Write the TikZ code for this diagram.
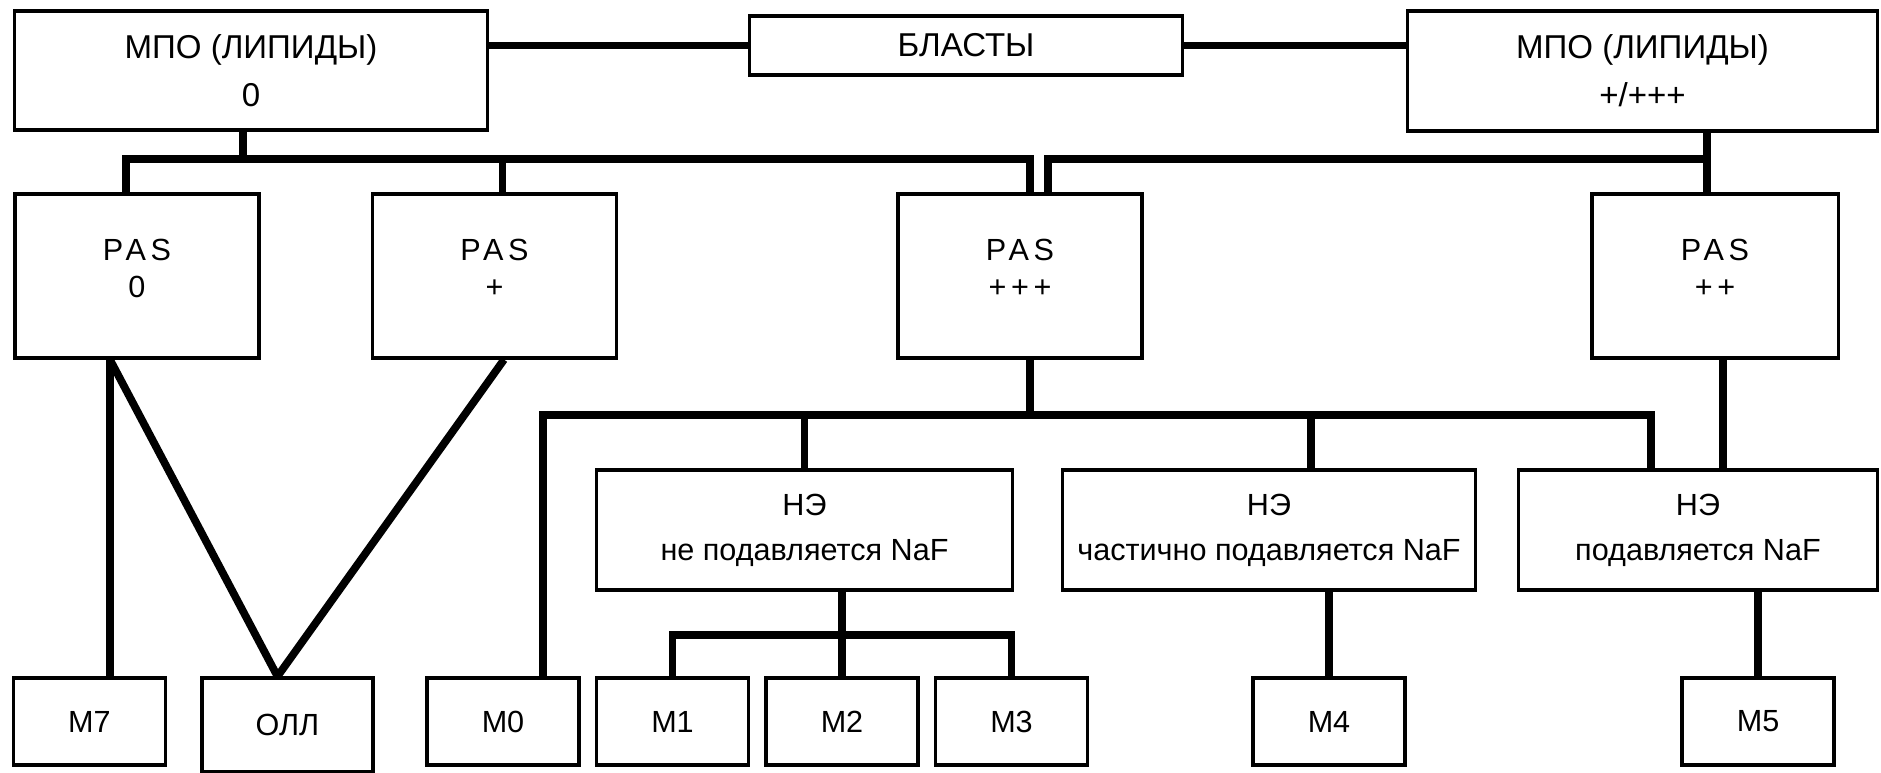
\documentclass[tikz,border=0pt]{standalone}
\usepackage{fontspec}
\setmainfont{Liberation Sans}
\usetikzlibrary{positioning}

\begin{document}
\begin{tikzpicture}[x=0.01cm,y=-0.01cm,
	box/.style={draw, line width=0.9pt, inner sep=0pt, align=center, font=\fontsize{8.7}{12.8}\selectfont},
	topbox/.style={box, font=\fontsize{9.4}{13.6}\selectfont},
	pasbox/.style={box, minimum width=2.44cm, minimum height=1.64cm, text depth=0.16cm, font=\fontsize{8.7}{10.5}\selectfont\addfontfeature{LetterSpace=15}},
	nebox/.style={box, minimum height=1.2cm},
	mbox/.style={box, minimum width=1.52cm, minimum height=0.87cm},
	link/.style={line width=2.2pt}]
	\useasboundingbox (0,0) rectangle (1881,773);

	\node[topbox, minimum width=4.72cm, minimum height=1.19cm] (mpoL) at (251,70.5) {МПО (ЛИПИДЫ)\\0};
	\node[topbox, minimum width=4.33cm, minimum height=0.59cm] (blast) at (966,45.5) {БЛАСТЫ};
	\node[topbox, minimum width=4.69cm, minimum height=1.2cm] (mpoR) at (1642.5,71) {МПО (ЛИПИДЫ)\\+/+++};

	\node[pasbox] (pas0) at (137,276) {PAS\\0};
	\node[pasbox] (pas1) at (494.5,276) {PAS\\+};
	\node[pasbox] (pas3) at (1020,276) {PAS\\+++};
	\node[pasbox, minimum width=2.46cm] (pas2) at (1715,276) {PAS\\++};

	\node[nebox, minimum width=4.15cm] (ne1) at (804.5,530) {НЭ\\не подавляется NaF};
	\node[nebox, minimum width=4.12cm] (ne2) at (1269,530) {НЭ\\частично подавляется NaF};
	\node[nebox, minimum width=3.58cm] (ne3) at (1698,530) {НЭ\\подавляется NaF};

	\node[mbox] (m7) at (89.5,721.5) {M7};
	\node[mbox, minimum width=1.71cm, minimum height=0.94cm] (oll) at (287.5,725) {ОЛЛ};
	\node[mbox] (m0) at (503,721.5) {M0};
	\node[mbox] (m1) at (672.5,721.5) {M1};
	\node[mbox] (m2) at (842,721.5) {M2};
	\node[mbox] (m3) at (1011.5,721.5) {M3};
	\node[mbox] (m4) at (1329,721.5) {M4};
	\node[mbox] (m5) at (1758,721.5) {M5};

	\coordinate (busA) at (0,159);
	\coordinate (busB) at (0,415);
	\coordinate (busC) at (0,635);
	\coordinate (tL) at ([xshift=-0.08cm]mpoL.south);
	\coordinate (a0) at ([xshift=-0.11cm]pas0.north);
	\coordinate (a1) at ([xshift=0.08cm]pas1.north);
	\coordinate (a3) at ([xshift=0.1cm]pas3.north);
	\coordinate (a4) at ([xshift=0.28cm]pas3.north);
	\coordinate (a2) at ([xshift=-0.08cm]pas2.north);
	\coordinate (b0) at ([xshift=-0.27cm]pas0.south);
	\coordinate (b1) at ([xshift=0.095cm]pas1.south);
	\coordinate (b3) at ([xshift=0.1cm]pas3.south);
	\coordinate (b2) at ([xshift=0.08cm]pas2.south);
	\coordinate (ollTop) at ([xshift=-0.1cm]oll.north);
	\coordinate (d0) at ([xshift=0.4cm]m0.north);
	\coordinate (d2) at ([xshift=0.42cm]ne2.north);
	\coordinate (d3) at ([xshift=-0.47cm]ne3.north);

	\draw[link] (blast.west) -- (blast.west -| mpoL.east);
	\draw[link] (blast.east) -- (blast.east -| mpoR.west);
	\draw[link] (tL) -- (tL |- busA);
	\draw[link] (a0) -- (a0 |- busA) -- (a3 |- busA) -- (a3);
	\draw[link] (a1) -- (a1 |- busA);
	\draw[link] (a4) -- (a4 |- busA) -- (a2 |- busA);
	\draw[link] (a2) -- (a2 |- mpoR.south);

	\draw[link] (b0) -- (b0 |- m7.north);
	\draw[link] (b0) -- (ollTop);
	\draw[link] (b1) -- (ollTop);
	\draw[link] (b3) -- (b3 |- busB);
	\draw[link] (d0) -- (d0 |- busB) -- (d3 |- busB) -- (d3);
	\draw[link] (ne1.north) -- (ne1.north |- busB);
	\draw[link] (d2) -- (d2 |- busB);
	\draw[link] (b2) -- (b2 |- ne3.north);

	\draw[link] (m2.north) -- (m2.north |- ne1.south);
	\draw[link] (m1.north) -- (m1.north |- busC) -- (m3.north |- busC) -- (m3.north);
	\draw[link] (m4.north) -- (m4.north |- ne2.south);
	\draw[link] (m5.north) -- (m5.north |- ne3.south);
\end{tikzpicture}
\end{document}
